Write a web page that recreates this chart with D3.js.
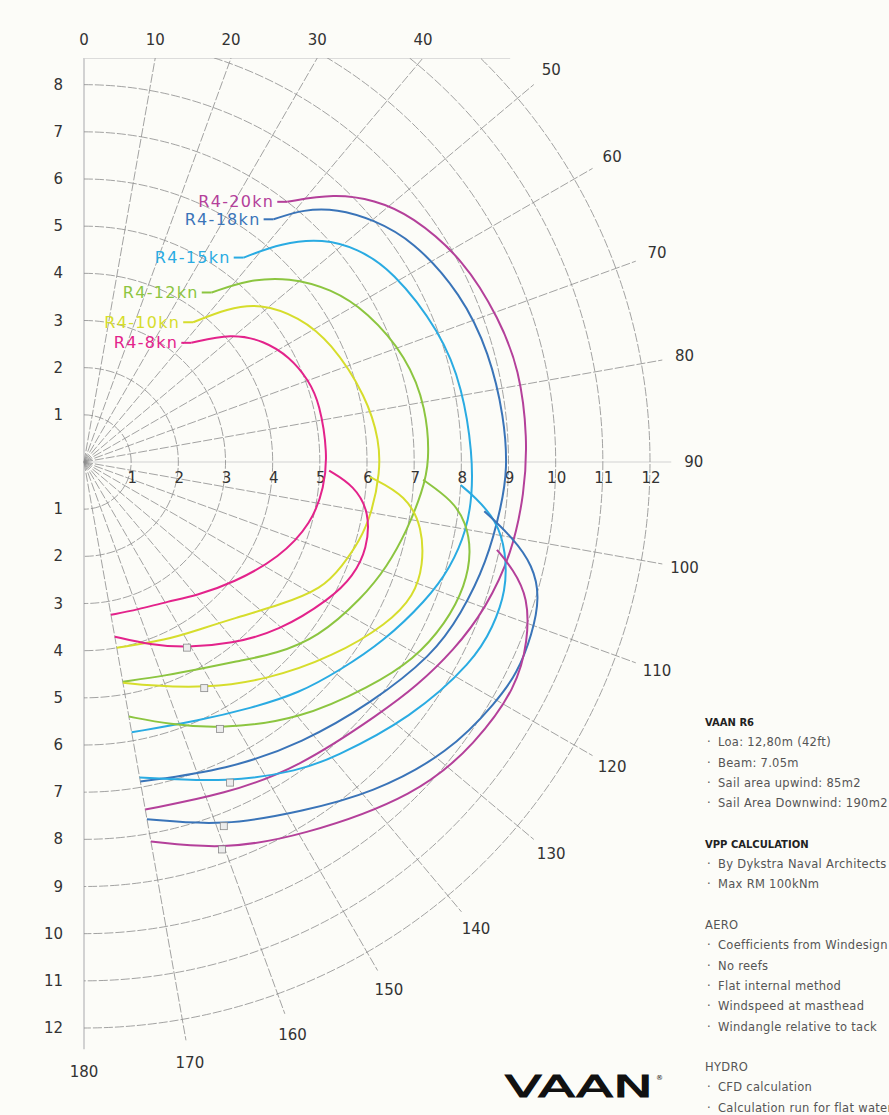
<!DOCTYPE html>
<html lang="en">
  <head>
    <meta charset="UTF-8" />
    <title>VAAN R4 polar</title>
    <style>
      body {
        margin: 0;
        background: #fcfcf8;
      }
      svg {
        display: block;
        font-family: "DejaVu Sans", sans-serif;
      }
      .grid {
        fill: none;
        stroke: #8c8c8c;
        stroke-width: 0.8;
        stroke-dasharray: 9, 2;
      }
      .solid {
        stroke: #d2d2d2;
        stroke-width: 2;
      }
      .tick {
        font-size: 15px;
        fill: #333;
      }
      .curve {
        fill: none;
        stroke-width: 2;
      }
      .info {
        font-size: 11.5px;
        letter-spacing: 0.3px;
        fill: #555;
      }
    </style>
  </head>
  <body>
    <div id="chart"></div>
    <script src="https://cdnjs.cloudflare.com/ajax/libs/d3/7.8.5/d3.min.js"></script>
    <script>
      // series names + colours
      const windLabels = ["R4-8kn", "R4-10kn", "R4-12kn", "R4-15kn", "R4-18kn", "R4-20kn"];
      const colors = ["#e3238b", "#d6dd2c", "#8cc540", "#2aabe2", "#3a74b8", "#b4409a"];

      // upwind sails: [true wind angle, boat speed kn]
      const up8 = [[42, 3.4], [49, 4.15], [56, 4.6], [63, 4.9], [70, 5.07], [76, 5.15], [88, 5.17], [96, 5.12], [105, 5.0], [116, 4.62], [129, 4.07], [140, 3.7], [149, 3.45], [160, 3.33], [170, 3.29]];
      const up10 = [[38, 3.76], [43, 4.45], [48, 5.03], [56, 5.5], [64, 5.82], [77, 6.15], [86, 6.28], [92, 6.28], [100, 6.2], [106, 6.08], [112, 5.9], [118, 5.72], [126, 5.15], [136, 4.6], [146, 4.3], [155, 4.16], [170, 4.0]];
      const up12 = [[37, 4.5], [42, 5.2], [48, 5.85], [55, 6.4], [62, 6.8], [72, 7.2], [81, 7.35], [90, 7.33], [95, 7.2], [102, 7.0], [109, 6.8], [116, 6.57], [127, 6.2], [135, 5.75], [142, 5.35], [150, 5.05], [159, 4.85], [170, 4.73]];
      const up15 = [[38, 5.5], [42, 6.25], [47, 6.94], [52, 7.35], [58, 7.7], [70, 8.05], [79, 8.18], [89, 8.24], [95, 8.26], [100, 8.24], [106, 8.09], [112, 7.83], [121, 7.4], [129, 7.0], [137, 6.7], [146, 6.3], [156, 6.0], [170, 5.82]];
      const up18 = [[38, 6.53], [41, 7.1], [45, 7.59], [50, 8.0], [56, 8.41], [66, 8.76], [75, 8.9], [84, 8.96], [91, 8.98], [96, 8.9], [104, 8.8], [112, 8.62], [119, 8.45], [130, 7.95], [142, 7.55], [155, 7.2], [170, 6.88]];
      const up20 = [[38, 7.0], [43, 7.78], [48, 8.3], [53, 8.69], [62, 9.13], [71, 9.31], [78, 9.44], [87, 9.42], [94, 9.36], [102, 9.28], [110, 9.07], [117, 8.8], [124, 8.5], [130, 8.25], [145, 7.92], [157, 7.65], [170, 7.48]];

      // downwind sails
      const dn8 = [[92, 5.2], [95, 5.75], [100, 6.15], [107, 6.28], [113, 6.2], [119, 5.98], [131, 5.47], [141, 4.96], [151, 4.5], [160, 4.13], [170, 3.76]];
      const dn10 = [[93, 6.07], [96, 6.88], [101, 7.31], [107, 7.52], [112, 7.55], [118, 7.3], [128, 6.7], [140, 6.03], [152, 5.43], [163, 4.96], [170, 4.75]];
      const dn12 = [[93, 7.2], [96, 7.86], [99, 8.2], [103, 8.43], [108, 8.5], [114, 8.4], [121, 8.15], [128, 7.72], [140, 7.13], [153, 6.35], [162, 5.85], [170, 5.48]];
      const dn15 = [[93.5, 8.0], [95, 8.3], [98, 8.83], [102, 9.15], [107, 9.36], [112, 9.35], [117, 9.28], [128, 8.81], [140, 8.2], [145, 7.98], [155.5, 7.47], [170, 6.79]];
      const dn18 = [[97, 8.55], [100, 9.23], [103, 9.77], [106.5, 10.08], [111, 10.18], [116, 10.22], [120, 10.12], [128.5, 9.9], [139, 9.31], [148, 8.73], [159, 8.27], [170, 7.69]];
      const dn20 = [[102, 8.95], [104, 9.37], [107, 9.85], [112, 10.15], [117.5, 10.34], [125.6, 10.23], [135, 10.0], [150, 9.17], [160.4, 8.72], [170, 8.17]];

      // best downwind VMG angle (little square)
      const vmgAngles = [151, 152, 153, 155.5, 159, 160.4];

      const ringTicks = [1, 2, 3, 4, 5, 6, 7, 8, 9, 10, 11, 12];
      const angleTicks = [0, 10, 20, 30, 40, 50, 60, 70, 80, 90, 100, 110, 120, 130, 140, 150, 160, 170, 180];

      const infoLines = [
        ["VAAN R6", "h"], ["Loa: 12,80m (42ft)", "b"], ["Beam: 7.05m", "b"], ["Sail area upwind: 85m2", "b"], ["Sail Area Downwind: 190m2", "b"], ["", ""],
        ["VPP CALCULATION", "h"], ["By Dykstra Naval Architects", "b"], ["Max RM 100kNm", "b"], ["", ""],
        ["AERO", ""], ["Coefficients from Windesign", "b"], ["No reefs", "b"], ["Flat internal method", "b"], ["Windspeed at masthead", "b"], ["Windangle relative to tack", "b"], ["", ""],
        ["HYDRO", ""], ["CFD calculation", "b"], ["Calculation run for flat water", "b"],
      ];

      const upwind = [up8, up10, up12, up15, up18, up20];
      const downwind = [dn8, dn10, dn12, dn15, dn18, dn20];

      let width = 889,
        height = 1115,
        cx = 84,
        cy = 462,
        topY = 58;

      let r = d3.scaleLinear().domain([0, 12]).range([0, 566]);
      let rad = (d) => (d * Math.PI) / 180;
      let rEnd = r(12.45),
        rLab = r(12.93);

      let svg = d3.select("#chart").append("svg").attr("width", width).attr("height", height);
      svg.append("defs").append("clipPath").attr("id", "clip")
        .append("rect").attr("x", -cx).attr("y", topY - cy).attr("width", width).attr("height", height);

      let g = svg.append("g").attr("transform", `translate(${cx},${cy})`);
      let grid = g.append("g").attr("clip-path", "url(#clip)");

      // solid frame lines (0/180 axis, 90 axis, top edge)
      grid.append("line").attr("class", "solid").attr("x1", 0).attr("x2", 0).attr("y1", topY - cy).attr("y2", rEnd);
      grid.append("line").attr("class", "solid").attr("x1", 0).attr("x2", rEnd).attr("y1", 0).attr("y2", 0).style("stroke-width", 1.2);
      grid.append("line").attr("class", "solid").attr("x1", 0).attr("y1", topY - cy).attr("y2", topY - cy)
        .attr("x2", Math.sqrt(rEnd * rEnd - (cy - topY) * (cy - topY))).style("stroke-width", 1.5);

      // rings
      grid.selectAll(".ring").data(ringTicks).join("path")
        .attr("class", "grid ring")
        .attr("d", (k) => {
          let p = d3.path();
          p.arc(0, 0, r(k), -Math.PI / 2, Math.PI / 2);
          return p.toString();
        });

      // spokes
      grid.selectAll(".spoke").data(angleTicks.filter((a) => a % 90 !== 0)).join("line")
        .attr("class", "grid spoke")
        .attr("x2", (a) => rEnd * Math.sin(rad(a)))
        .attr("y2", (a) => -rEnd * Math.cos(rad(a)));

      // angle labels
      g.selectAll(".alab").data(angleTicks).join("text")
        .attr("class", "tick alab")
        .attr("text-anchor", "middle")
        .attr("dominant-baseline", "central")
        .attr("x", (a) => (a <= 40 ? (cy - topY) * Math.tan(rad(a)) : rLab * Math.sin(rad(a))))
        .attr("y", (a) => (a <= 40 ? 40 - cy : -rLab * Math.cos(rad(a))))
        .text((a) => a);

      // speed labels on the vertical axis (both halves) and along 90
      g.selectAll(".vlab").data(ringTicks.filter((k) => k <= 8).map((k) => -k).concat(ringTicks)).join("text")
        .attr("class", "tick vlab")
        .attr("text-anchor", "end")
        .attr("dominant-baseline", "central")
        .attr("x", -21)
        .attr("y", (k) => Math.sign(k) * r(Math.abs(k)))
        .text((k) => Math.abs(k));

      g.selectAll(".hlab").data(ringTicks).join("text")
        .attr("class", "tick hlab")
        .attr("text-anchor", "middle")
        .attr("dominant-baseline", "central")
        .attr("x", (k) => r(k) + 1)
        .attr("y", 16)
        .text((k) => k);

      // polar curves
      let line = d3.lineRadial()
        .angle((d) => rad(d[0]))
        .radius((d) => r(d[1]))
        .curve(d3.curveBasis);

      let curves = g.append("g");
      upwind.forEach((s, i) => {
        curves.append("path").attr("class", "curve").attr("d", line(s)).style("stroke", colors[i]);
      });
      downwind.forEach((s, i) => {
        curves.append("path").attr("class", "curve").attr("d", line(s)).style("stroke", colors[i]);
      });

      // vmg markers
      downwind.forEach((s, i) => {
        let p = s.find((d) => d[0] === vmgAngles[i]);
        let x = r(p[1]) * Math.sin(rad(p[0])),
          y = -r(p[1]) * Math.cos(rad(p[0]));
        curves.append("rect")
          .attr("x", x - 3.5).attr("y", y - 3.5).attr("width", 7).attr("height", 7)
          .attr("fill", "#ececec").attr("stroke", "#8a8a8a").attr("stroke-width", 0.8);
      });

      // labels at the start of each upwind curve
      upwind.forEach((s, i) => {
        let p = s[0];
        let x = r(p[1]) * Math.sin(rad(p[0])),
          y = -r(p[1]) * Math.cos(rad(p[0]));
        curves.append("line")
          .attr("x1", x - 10).attr("x2", x).attr("y1", y).attr("y2", y)
          .style("stroke", colors[i]).style("stroke-width", 2);
        curves.append("text")
          .attr("x", x - 13).attr("y", y)
          .attr("text-anchor", "end")
          .attr("dominant-baseline", "central")
          .style("font-size", "16px")
          .style("letter-spacing", "1.3px")
          .style("fill", colors[i])
          .text(windLabels[i]);
      });

      // spec block on the right
      let info = svg.append("g").selectAll("g").data(infoLines).join("g")
        .attr("transform", (d, i) => `translate(705,${726 + i * 20.3})`);
      info.append("text")
        .attr("class", "info")
        .attr("x", (d) => (d[1] === "b" ? 13 : 0))
        .style("font-weight", (d) => (d[1] === "h" ? "bold" : "normal"))
        .style("font-size", (d) => (d[1] === "h" ? "10px" : null))
        .style("letter-spacing", (d) => (d[1] === "h" ? "0px" : null))
        .style("fill", (d) => (d[1] === "h" ? "#222" : "#555"))
        .text((d) => d[0]);
      info.filter((d) => d[1] === "b").append("text")
        .attr("class", "info").attr("x", 2).text("·");

      // logo
      svg.append("text")
        .attr("x", 505).attr("y", 1097)
        .attr("textLength", 148).attr("lengthAdjust", "spacingAndGlyphs")
        .style("font-size", "30px").style("fill", "#111")
        .style("stroke", "#111").style("stroke-width", 1)
        .text("VAAN");
      svg.append("text").attr("x", 656).attr("y", 1080).style("font-size", "7px").style("fill", "#111").text("®");
    </script>
  </body>
</html>
